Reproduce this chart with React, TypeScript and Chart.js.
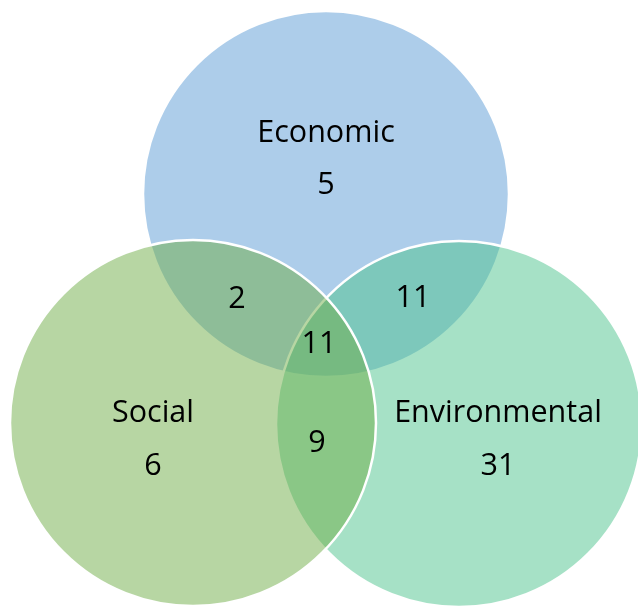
import React, { useEffect, useRef } from "react";
import { Chart, registerables } from "chart.js";

Chart.register(...registerables);

// Venn sets (drawing order: Economic, Environmental, Social)
const setNames = ["Economic", "Environmental", "Social"];
const setCenterX = [326, 459, 193];
const setCenterY = [194, 424, 423];
const setRadius = [183, 183, 183];
const setColors = [
  "rgba(91,155,213,0.5)",
  "rgba(77,195,141,0.5)",
  "rgba(112,173,71,0.5)",
];

// Region labels and counts
const labelTexts = ["Economic", "5", "Environmental", "31", "Social", "6", "2", "11", "11", "9"];
const labelX = [326, 326, 498, 498, 153, 153, 237, 413, 319, 317];
const labelY = [142, 194, 422, 475, 422, 475, 308, 307, 353, 452];

const W = 638;
const H = 607;

const labelPlugin = {
  id: "vennLabels",
  afterDatasetsDraw(chart: any) {
    const { ctx, scales } = chart;
    ctx.save();
    ctx.fillStyle = "#000000";
    ctx.font = "30.5px 'Open Sans'";
    ctx.textAlign = "center";
    ctx.textBaseline = "alphabetic";
    labelTexts.forEach((t, i) => {
      ctx.fillText(t, scales.x.getPixelForValue(labelX[i]), scales.y.getPixelForValue(labelY[i]));
    });
    ctx.restore();
  },
};

export default function App() {
  const ref = useRef<HTMLCanvasElement>(null);
  useEffect(() => {
    document.body.style.margin = "0";
    const chart = new Chart(ref.current as HTMLCanvasElement, {
      type: "bubble",
      data: {
        datasets: [
          {
            label: "Venn",
            data: setNames.map((_, i) => ({ x: setCenterX[i], y: setCenterY[i], r: setRadius[i] })),
            backgroundColor: setColors,
            borderColor: "#ffffff",
            borderWidth: 2.5,
            clip: false as any,
          },
        ],
      },
      options: {
        animation: false,
        responsive: false,
        maintainAspectRatio: false,
        layout: { padding: 0, autoPadding: false } as any,
        plugins: { legend: { display: false }, tooltip: { enabled: false } },
        scales: {
          x: { type: "linear", min: 0, max: W, display: false },
          y: { type: "linear", min: 0, max: H, reverse: true, display: false },
        },
      },
      plugins: [labelPlugin],
    });
    return () => chart.destroy();
  }, []);
  return (
    <div style={{ width: W, height: H, background: "#fff" }}>
      <canvas ref={ref} width={W} height={H} />
    </div>
  );
}
